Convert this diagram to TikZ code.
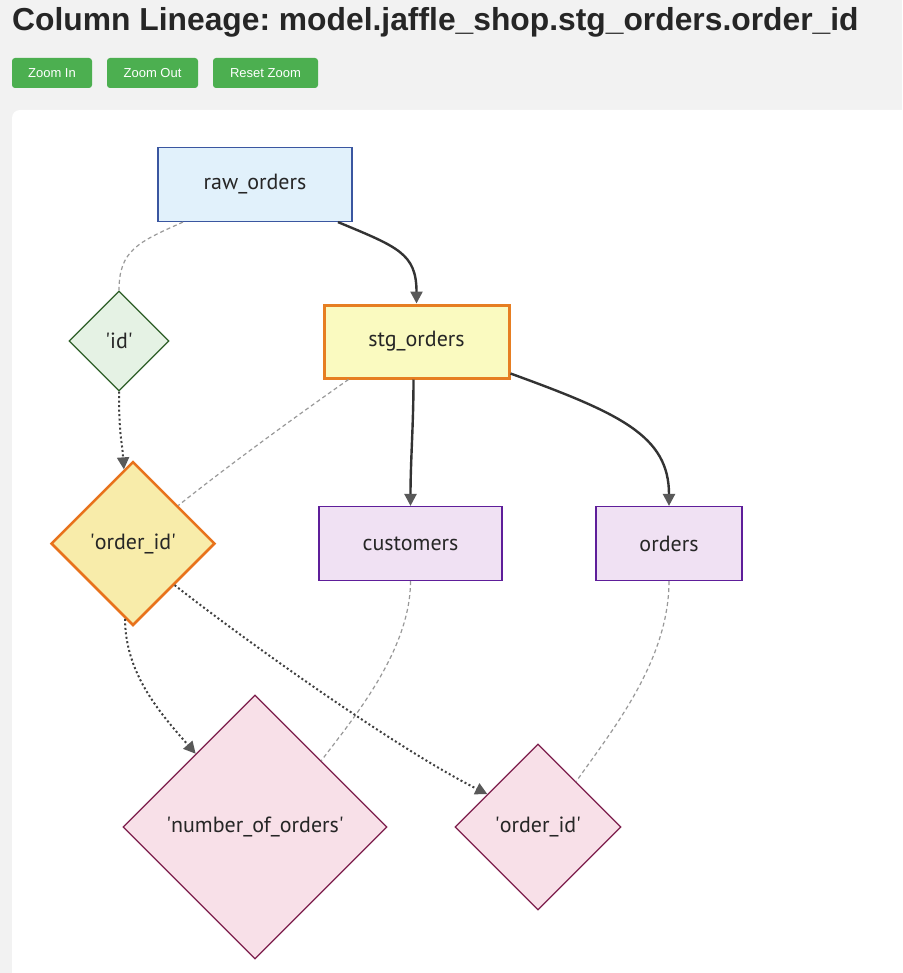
\documentclass[tikz,border=0pt]{standalone}
\usepackage{fontspec}
\setmainfont{PT Sans}
\newfontfamily\headfont{Liberation Sans}
\usetikzlibrary{positioning, arrows.meta, shapes.geometric, calc}
\frenchspacing
\definecolor{pagebg}{HTML}{F2F2F2}
\definecolor{btngreen}{HTML}{4CAF50}
\definecolor{srcfill}{HTML}{E1F1FB}
\definecolor{srcline}{HTML}{3A56A0}
\definecolor{focfill}{HTML}{FAFAC0}
\definecolor{focline}{HTML}{E67E22}
\definecolor{colfill}{HTML}{E5F2E4}
\definecolor{colline}{HTML}{2D5E27}
\definecolor{ocolfill}{HTML}{F8ECAA}
\definecolor{ocolline}{HTML}{E8721C}
\definecolor{dsfill}{HTML}{F0E1F3}
\definecolor{dsline}{HTML}{5E1E9A}
\definecolor{dcolfill}{HTML}{F8E0E8}
\definecolor{dcolline}{HTML}{7D1E4C}
\definecolor{edgedark}{HTML}{333333}
\definecolor{tipgray}{HTML}{595959}
\newcommand{\q}{\textquotesingle}
\tikzset{
  button/.style={
    fill=btngreen,
    rounded corners=3pt,
    text=white,
    font=\headfont\fontsize{13}{15}\selectfont,
    minimum height=30pt,
    inner sep=0pt
  },
  model/.style={
    draw,
    rectangle,
    align=center,
    inner sep=0pt,
    minimum height=74pt,
    line width=1.2pt,
    font=\fontsize{22}{26}\selectfont,
    text=black!85
  },
  column/.style={
    draw,
    diamond,
    aspect=1,
    inner sep=0pt,
    line width=1.2pt,
    font=\fontsize{22}{26}\selectfont,
    text=black!85
  },
  flow/.style={
    draw=edgedark,
    line width=2.4pt,
    -{Triangle[length=12pt,width=12pt,color=tipgray]}
  },
  lineage/.style={
    draw=black!75,
    line width=2pt,
    dash pattern=on 2pt off 2.5pt,
    -{Triangle[length=12pt,width=12pt,color=tipgray]}
  },
  belongs/.style={
    draw=black!40,
    line width=1.2pt,
    dash pattern=on 4pt off 3pt
  }
}

\begin{document}
\begin{tikzpicture}[x=1pt, y=-1pt]
        \useasboundingbox (0,0) rectangle (902,973);
        \clip (0,0) rectangle (902,973);
        \fill[pagebg] (0,0) rectangle (902,973);
        \fill[white] (12,110) [rounded corners=8pt] rectangle (930,1000);

        \node[anchor=base west, inner sep=0pt, font=\headfont\bfseries\fontsize{31.8}{36}\selectfont, text=black!85] (title) at (12,31) {Column Lineage: model.jaffle\_shop.stg\_orders.order\_id};
        \node[button, minimum width=80pt] (zin) at (52,73) {Zoom In};
        \node[button, minimum width=91pt] (zout) at (152.5,73) {Zoom Out};
        \node[button, minimum width=105pt] (zreset) at (265.5,73) {Reset Zoom};

        \node[model, fill=srcfill, draw=srcline, minimum width=194pt] (raw) at (255,184.5) {raw\_orders};
        \node[model, fill=focfill, draw=focline, line width=3pt, minimum width=185pt, minimum height=73pt] (stg) at (416.5,341.5) {stg\_orders};
        \node[model, fill=dsfill, draw=dsline, minimum width=183pt] (cust) at (410.5,543.5) {customers};
        \node[model, fill=dsfill, draw=dsline, minimum width=146pt] (ord) at (669,543.5) {orders};

        \node[column, fill=colfill, draw=colline, minimum width=100pt, minimum height=100pt] (id) at (119,341) {\q id\q};
        \node[column, fill=ocolfill, draw=ocolline, line width=2.5pt, minimum width=164pt, minimum height=164pt] (oid) at (133,543.5) {\q order\_id\q};
        \node[column, fill=dcolfill, draw=dcolline, minimum width=264pt, minimum height=264pt] (num) at (255,827) {\q number\_of\_orders\q};
        \node[column, fill=dcolfill, draw=dcolline, minimum width=166pt, minimum height=166pt] (tgt) at (538,827) {\q order\_id\q};

        \draw[flow] ([xshift=83pt]raw.south) .. controls +(60,25) and +(0,-50) .. (stg.north);
        \draw[flow] ([xshift=-3pt]stg.south) .. controls +(0,45) and +(0,-45) .. (cust.north);
        \draw[flow] ([yshift=6pt]stg.south east) .. controls +(110,40) and +(0,-70) .. (ord.north);

        \draw[belongs] ([xshift=-72pt]raw.south) .. controls +(-45,20) and +(0,-40) .. (id.north);
        \draw[belongs] ([xshift=-68pt]stg.south) .. controls +(-50,35) and +(50,-40) .. (oid.40);
        \draw[belongs] (cust.south) .. controls +(0,70) and +(30,-40) .. (num.45);
        \draw[belongs] (ord.south) .. controls +(0,80) and +(35,-50) .. (tgt.50);

        \draw[lineage] (id.south) .. controls +(0,45) and +(-2,-30) .. (oid.97);
        \draw[lineage] (oid.264) .. controls +(0,55) and +(-35,-40) .. (num.129);
        \draw[lineage] (oid.-45) .. controls +(70,55) and +(-90,-45) .. (tgt.147);
      \end{tikzpicture}
\end{document}
